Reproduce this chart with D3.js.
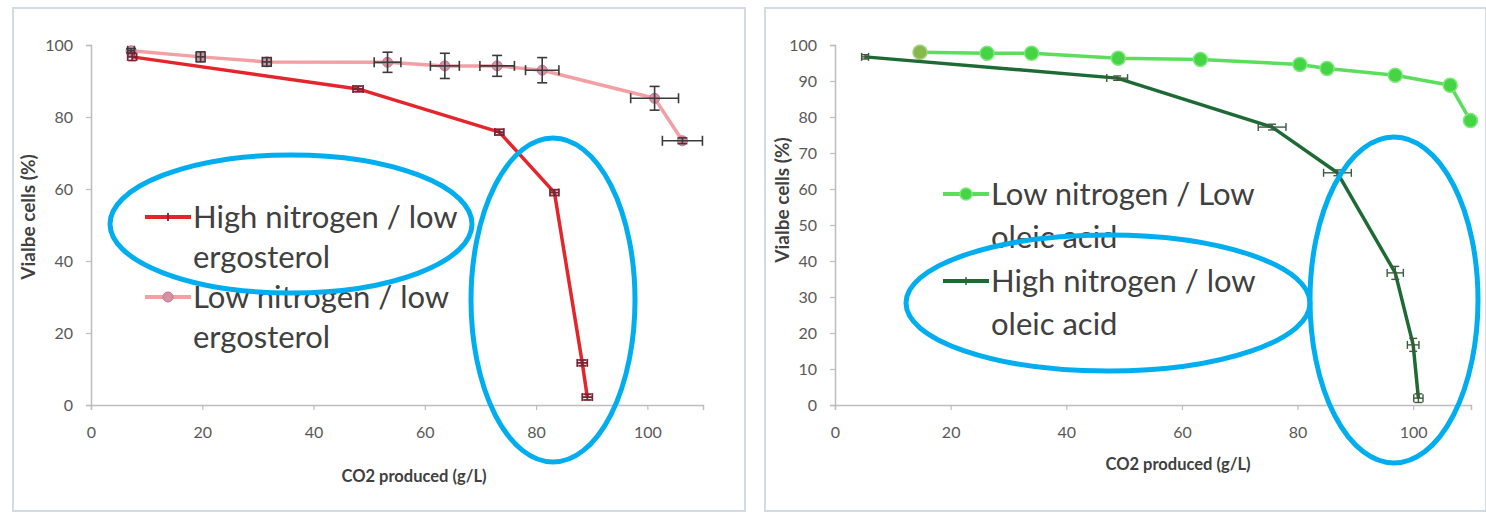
<!DOCTYPE html>
<html>
<head>
<meta charset="utf-8">
<script src="https://cdn.jsdelivr.net/npm/d3@7"></script>
<style>
  html, body { margin: 0; padding: 0; background: #ffffff; }
  svg { display: block; }
</style>
</head>
<body>
<svg id="chart" width="1486" height="514"></svg>
<script>
// ---------- DATA ----------
const xTicks = [0, 20, 40, 60, 80, 100];
const yTicksLeft = [0, 20, 40, 60, 80, 100];
const yTicksRight = [0, 10, 20, 30, 40, 50, 60, 70, 80, 90, 100];

const xAxisTitle = "CO2 produced (g/L)";
const yAxisTitle = "Vialbe cells (%)";

// Left panel: ergosterol
const leftHighLabel = ["High nitrogen / low", "ergosterol"];
const leftHighX    = [7.4, 48.0, 73.4, 83.3, 88.3, 89.2];
const leftHighY    = [96.7, 87.8, 75.8, 59.0, 11.7, 2.2];
const leftHighXErr = [0.8, 0.9, 0.8, 0.8, 0.9, 0.9];
const leftHighYErr = [1.0, 0.8, 0.8, 0.8, 0.8, 0.8];

const leftLowLabel = ["Low nitrogen / low", "ergosterol"];
const leftLowX    = [7.2, 19.7, 31.6, 53.3, 63.6, 73.0, 81.1, 101.3, 106.3];
const leftLowY    = [98.4, 96.7, 95.3, 95.2, 94.2, 94.2, 93.0, 85.2, 73.4];
const leftLowXErr = [0.6, 0.8, 0.8, 2.4, 2.6, 3.1, 3.0, 4.3, 3.6];
const leftLowYErr = [0.6, 1.4, 1.2, 2.8, 3.5, 2.9, 3.5, 3.3, 0.8];

// Right panel: oleic acid
const rightLowLabel = ["Low nitrogen / Low", "oleic acid"];
const rightLowX = [14.7, 26.3, 34.0, 49.0, 63.2, 80.4, 85.1, 96.9, 106.4, 109.9];
const rightLowY = [98.0, 97.7, 97.7, 96.3, 96.0, 94.6, 93.5, 91.6, 88.8, 79.0];

const rightHighLabel = ["High nitrogen / low", "oleic acid"];
const rightHighX    = [5.2, 48.8, 75.6, 86.9, 96.9, 100.0, 100.9];
const rightHighY    = [96.7, 90.8, 77.2, 64.5, 36.7, 16.7, 1.9];
const rightHighXErr = [0.6, 1.8, 2.4, 2.4, 1.4, 1.0, 0.8];
const rightHighYErr = [0.6, 0.6, 0.8, 0.8, 1.8, 1.8, 1.2];

// ---------- DRAW ----------
const svg = d3.select("#chart");
const FONT = "Lato, 'Open Sans', sans-serif";

function frame(x0, y0, x1, y1) {
  svg.append("rect")
    .attr("x", x0).attr("y", y0)
    .attr("width", x1 - x0).attr("height", y1 - y0)
    .attr("fill", "#ffffff")
    .attr("stroke", "#d3dae2").attr("stroke-width", 2);
}

function axes(g, x, y, yTicks) {
  const xa = g.append("g").attr("transform", `translate(0,${y(0)})`)
    .call(d3.axisBottom(x).tickValues(xTicks).tickSizeOuter(0).tickSize(5).tickPadding(17));
  const ya = g.append("g").attr("transform", `translate(${x(0)},0)`)
    .call(d3.axisLeft(y).tickValues(yTicks).tickSizeOuter(0).tickSize(5).tickPadding(13));
  [xa, ya].forEach(a => {
    a.select(".domain").attr("stroke", "#bdbdbd").attr("stroke-width", 1.5);
    a.selectAll(".tick line").attr("stroke", "#bdbdbd").attr("stroke-width", 1.2);
    a.selectAll(".tick text").attr("fill", "#595959")
      .style("font-family", FONT).style("font-size", "16px");
  });
}

function errorBars(g, x, y, xs, ys, xe, ye, color, cap, width) {
  xs.forEach((v, i) => {
    const px = x(v), py = y(ys[i]);
    const x1 = x(v - xe[i]), x2 = x(v + xe[i]);
    const y1 = y(ys[i] - ye[i]), y2 = y(ys[i] + ye[i]);
    const eg = g.append("g").attr("stroke", color).attr("stroke-width", width).attr("fill", "none");
    eg.append("line").attr("x1", x1).attr("x2", x2).attr("y1", py).attr("y2", py);
    eg.append("line").attr("x1", x1).attr("x2", x1).attr("y1", py - cap).attr("y2", py + cap);
    eg.append("line").attr("x1", x2).attr("x2", x2).attr("y1", py - cap).attr("y2", py + cap);
    eg.append("line").attr("x1", px).attr("x2", px).attr("y1", y1).attr("y2", y2);
    eg.append("line").attr("x1", px - cap).attr("x2", px + cap).attr("y1", y1).attr("y2", y1);
    eg.append("line").attr("x1", px - cap).attr("x2", px + cap).attr("y1", y2).attr("y2", y2);
  });
}

function lineOf(g, x, y, xs, ys, color, w) {
  const pts = xs.map((v, i) => [x(v), y(ys[i])]);
  g.append("path").attr("d", d3.line()(pts))
    .attr("fill", "none").attr("stroke", color).attr("stroke-width", w)
    .attr("stroke-linejoin", "round");
}

function legendEntry(g, lx, ly, lines, color, lw, marker, lineGap) {
  g.append("line").attr("x1", lx).attr("x2", lx + 46).attr("y1", ly).attr("y2", ly)
    .attr("stroke", color).attr("stroke-width", lw);
  marker(g, lx + 23, ly);
  const t = g.append("text").attr("x", lx + 48).attr("y", ly + 11)
    .attr("fill", "#404040").style("font-family", FONT).style("font-size", "31px");
  lines.forEach((s, i) => {
    t.append("tspan").attr("x", lx + 48).attr("dy", i === 0 ? 0 : lineGap).text(s);
  });
}

function ellipse(cx, cy, rx, ry) {
  svg.append("ellipse").attr("cx", cx).attr("cy", cy).attr("rx", rx).attr("ry", ry)
    .attr("fill", "none").attr("stroke", "#00aeef").attr("stroke-width", 5);
}

function titles(g, xx, xy, yx, yy) {
  g.append("text").attr("x", xx).attr("y", xy).attr("text-anchor", "middle")
    .attr("fill", "#404040").style("font-family", FONT).style("font-size", "16.5px")
    .style("font-weight", "bold").text(xAxisTitle);
  g.append("text").attr("transform", `translate(${yx},${yy}) rotate(-90)`).attr("text-anchor", "middle")
    .attr("fill", "#404040").style("font-family", FONT).style("font-size", "19px")
    .style("font-weight", "bold").text(yAxisTitle);
}

// ---- Left panel ----
frame(13, 8, 745, 511);
{
  const x = d3.scaleLinear().domain([0, 110]).range([91, 703]);
  const y = d3.scaleLinear().domain([0, 100]).range([405, 45]);
  const g = svg.append("g");
  axes(g, x, y, yTicksLeft);
  titles(g, 414, 482, 35, 217);

  // low nitrogen (pink)
  lineOf(g, x, y, leftLowX, leftLowY, "#f2a0a3", 3.5);
  g.selectAll(null).data(leftLowX).enter().append("circle")
    .attr("cx", d => x(d)).attr("cy", (d, i) => y(leftLowY[i])).attr("r", 5)
    .attr("fill", "#d890a4").attr("stroke", "#c07890").attr("stroke-width", 1);
  errorBars(g, x, y, leftLowX, leftLowY, leftLowXErr, leftLowYErr, "#3a3a3a", 5, 1.6);

  // high nitrogen (red)
  lineOf(g, x, y, leftHighX, leftHighY, "#e4262c", 3.5);
  errorBars(g, x, y, leftHighX, leftHighY, leftHighXErr, leftHighYErr, "#7a2535", 4, 1.8);

  legendEntry(g, 145, 217, leftHighLabel, "#e4262c", 4, (gg, mx, my) => {
    gg.append("line").attr("x1", mx).attr("x2", mx).attr("y1", my - 4).attr("y2", my + 4)
      .attr("stroke", "#7a2535").attr("stroke-width", 1.8);
  }, 40);
  legendEntry(g, 145, 297, leftLowLabel, "#f2a0a3", 4, (gg, mx, my) => {
    gg.append("circle").attr("cx", mx).attr("cy", my).attr("r", 5)
      .attr("fill", "#d890a4").attr("stroke", "#c07890");
  }, 40);
}

// ---- Right panel ----
frame(765, 8, 1486, 511);
{
  const x = d3.scaleLinear().domain([0, 110]).range([835, 1471]);
  const y = d3.scaleLinear().domain([0, 100]).range([405, 45]);
  const g = svg.append("g");
  axes(g, x, y, yTicksRight);
  titles(g, 1178, 470, 789, 200);

  // low nitrogen (light green)
  lineOf(g, x, y, rightLowX, rightLowY, "#5cde5c", 3.5);
  g.selectAll(null).data(rightLowX).enter().append("circle")
    .attr("cx", d => x(d)).attr("cy", (d, i) => y(rightLowY[i])).attr("r", 7)
    .attr("fill", (d, i) => i === 0 ? "#86b84e" : "#44d444")
    .attr("stroke", (d, i) => i === 0 ? "#a3cf7a" : "#7de87d").attr("stroke-width", 1.5);

  // high nitrogen (dark green)
  lineOf(g, x, y, rightHighX, rightHighY, "#1d6a35", 3.5);
  errorBars(g, x, y, rightHighX, rightHighY, rightHighXErr, rightHighYErr, "#3d5a3d", 4, 1.4);

  legendEntry(g, 943, 194, rightLowLabel, "#5cde5c", 4, (gg, mx, my) => {
    gg.append("circle").attr("cx", mx).attr("cy", my).attr("r", 6)
      .attr("fill", "#44d444").attr("stroke", "#7de87d").attr("stroke-width", 1.5);
  }, 43);
  legendEntry(g, 943, 281, rightHighLabel, "#1d6a35", 4, (gg, mx, my) => {
    gg.append("line").attr("x1", mx).attr("x2", mx).attr("y1", my - 4).attr("y2", my + 4)
      .attr("stroke", "#3d5a3d").attr("stroke-width", 1.5);
  }, 43);
}

// ---- Highlight ellipses ----
ellipse(291, 224, 181, 69);
ellipse(553, 300, 82, 162);
ellipse(1108, 303, 202, 68);
ellipse(1394, 300, 84, 163);
</script>
</body>
</html>
